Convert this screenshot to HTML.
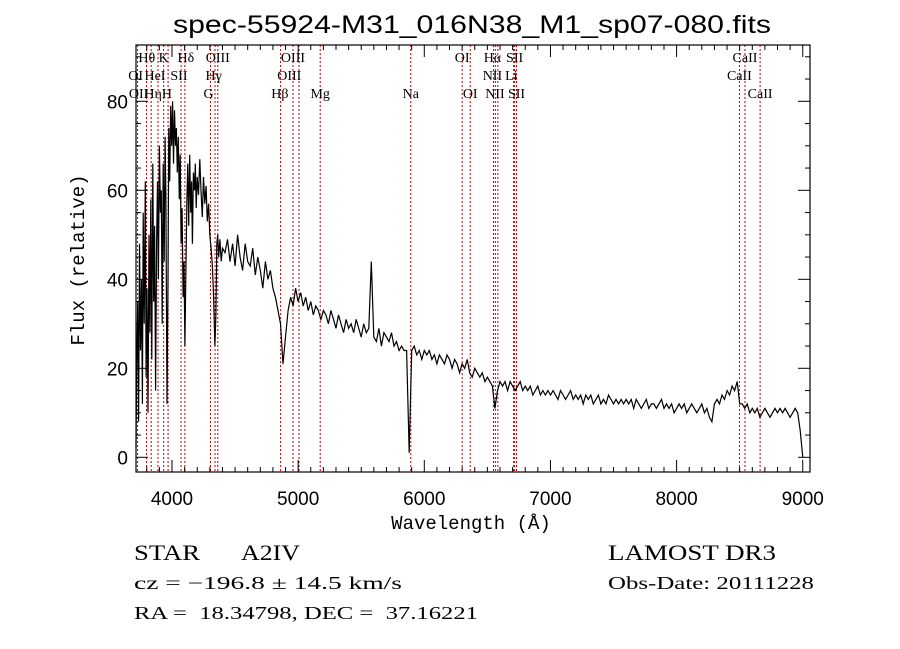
<!DOCTYPE html>
<html><head><meta charset="utf-8"><style>
html,body{margin:0;padding:0;background:#fff;}
svg{display:block;}
text{font-family:"Liberation Serif",serif;fill:#000;white-space:pre;}
</style></head><body>
<svg id="chart" width="900" height="649" viewBox="0 0 900 649" xmlns="http://www.w3.org/2000/svg">
<rect x="0" y="0" width="900" height="649" fill="#fff"/>
<text x="472" y="33" text-anchor="middle" font-size="25" textLength="598" lengthAdjust="spacingAndGlyphs" style="font-family:'Liberation Sans',sans-serif">spec-55924-M31_016N38_M1_sp07-080.fits</text>
<g id="lines"></g>
<g id="lineLabels"></g>
<path id="spec" fill="none" stroke="#000" stroke-width="1.2"/>
<g id="axes"></g>
<text x="471" y="529" text-anchor="middle" font-size="19" style="font-family:'Liberation Mono',monospace">Wavelength (Å)</text>
<text transform="translate(84,260) rotate(-90)" text-anchor="middle" font-size="19" style="font-family:'Liberation Mono',monospace">Flux (relative)</text>
<text x="134" y="560" font-size="22" textLength="66" lengthAdjust="spacingAndGlyphs">STAR</text>
<text x="241" y="560" font-size="22" textLength="59" lengthAdjust="spacingAndGlyphs">A2IV</text>
<text x="608" y="560" font-size="22" textLength="168" lengthAdjust="spacingAndGlyphs">LAMOST DR3</text>
<text x="134" y="589" font-size="18" textLength="268" lengthAdjust="spacingAndGlyphs">cz = −196.8 ± 14.5 km/s</text>
<text x="608" y="589" font-size="18" textLength="206" lengthAdjust="spacingAndGlyphs">Obs-Date: 20111228</text>
<text x="134" y="619" font-size="18" textLength="344" lengthAdjust="spacingAndGlyphs">RA =  18.34798, DEC =  37.16221</text>
</svg>
<script>
const wave = [
3715,3720,3728,3735,3742,3750,3758,3765,3772,3780,
3788,3795,3802,3810,3818,3825,3832,3840,3848,3855,
3862,3870,3878,3885,3892,3900,3908,3915,3922,3930,
3938,3945,3952,3960,3968,3975,3982,3990,3998,4005,
4012,4020,4028,4035,4042,4050,4058,4065,4072,4080,
4088,4095,4102,4110,4118,4125,4132,4140,4148,4155,
4162,4170,4178,4185,4192,4200,4210,4220,4230,4240,
4250,4260,4270,4280,4290,4300,4310,4320,4330,4340,
4348,4355,4362,4370,4380,4390,4400,
4420,4440,4460,4480,4500,4520,4540,4560,4580,4600,
4620,4640,4660,4680,4700,4720,4740,4760,4780,4800,
4820,4840,4860,4880,4900,4920,4940,4960,4980,5000,
5020,5040,5060,5080,5100,5120,5140,5160,5180,5200,
5220,5240,5260,5280,5300,5320,5340,5360,5380,5400,
5420,5440,5460,5480,5500,5520,5540,5560,5580,5600,
5620,5640,5660,5680,5700,5720,5740,5760,5780,5800,
5820,5840,5860,5880,5900,5920,5940,5960,5980,6000,
6020,6040,6060,6080,6100,6120,6140,6160,6180,6200,
6220,6240,6260,6280,6300,6320,6340,6360,6380,6400,
6420,6440,6460,6480,6500,6520,6540,6560,6580,6600,
6620,6640,6660,6680,6700,6720,6740,6760,6780,6800,
6820,6840,6860,6880,6900,6920,6940,6960,6980,7000,
7020,7040,7060,7080,7100,7120,7140,7160,7180,7200,
7220,7240,7260,7280,7300,7320,7340,7360,7380,7400,
7420,7440,7460,7480,7500,7520,7540,7560,7580,7600,
7620,7640,7660,7680,7700,7720,7740,7760,7780,7800,
7820,7840,7860,7880,7900,7920,7940,7960,7980,8000,
8020,8040,8060,8080,8100,8120,8140,8160,8180,8200,
8220,8240,8260,8280,8300,8320,8340,8360,8380,8400,
8420,8440,8460,8480,8500,8520,8540,8560,8580,8600,
8620,8640,8660,8680,8700,8720,8740,8760,8780,8800,
8820,8840,8860,8880,8900,8920,8940,8960,8980,9000];
const flux = [
2,20,35,8,48,24,40,12,55,30,
62,18,38,10,50,28,58,22,66,35,
52,15,48,62,40,70,55,60,30,66,
44,72,58,12,40,74,62,79,70,80,
66,78,70,74,64,72,58,68,48,56,
36,44,25,42,58,66,52,68,55,62,
48,64,60,66,56,63,59,67,60,54,
63,57,61,53,57,50,47,43,36,25,
32,48,50,45,49,44,47,
46,49,44,48,43,50,45,42,48,44,
43,47,41,45,42,38,44,40,42,38,
36,33,30,21,27,33,36,34,38,35,
37,34,36,33,35,32,34,33,31,33,
32,30,33,31,29,32,30,28,31,29,
30,28,31,29,27,30,28,29,44,27,
26,29,25,28,27,26,28,25,26,24,
25,24,24,1,24,25,23,24,22,24,
23,24,22,23,21,23,22,21,23,22,
20,22,21,19,21,20,22,19,18,20,
19,18,19,17,18,17,16,11,15,17,
16,17,15,17,16,15,16,17,15,16,
15,16,14,15,16,14,15,14,15,14,
15,14,13,15,14,13,14,15,13,14,
13,14,12,14,13,14,12,13,14,12,
13,12,14,13,12,13,12,13,12,13,
12,13,11,13,12,11,12,13,11,12,
12,11,12,13,11,12,11,12,10,11,
12,11,12,10,11,12,11,10,11,12,
10,11,9,8,12,13,12,14,13,15,
14,16,15,17,12,12,11,12,10,11,
10,11,9,10,11,10,9,10,11,10,
11,10,11,10,9,10,11,10,6,0];
const fluxTicks = [0,20,40,60,80];
const waveTicks = [4000,5000,6000,7000,8000,9000];
const lineWaves = [3727,3798,3835,3889,3934,3969,4072,4102,4305,4341,4363,4861,4959,5007,5175,5893,6300,6364,6548,6563,6583,6708,6716,6731,8498,8542,8662];
const labelText = ["Hθ","K","Hδ","OIII","OIII","OI","Hα","SII","CaII","OI","HeI","SII","Hγ","OIII","NII","Li","CaII","OII","Hη","H","G","Hβ","Mg","Na","OI","NII","SII","CaII"];
const labelWave = [3800,3934,4110,4363,4959,6300,6540,6716,8542,3712,3865,4055,4330,4930,6540,6690,8498,3735,3850,3960,4290,4855,5175,5893,6364,6560,6731,8662];
const labelRow = [0,0,0,0,0,0,0,0,0,1,1,1,1,1,1,1,1,2,2,2,2,2,2,2,2,2,2,2];

const X0=136,X1=810,Y0=45,Y1=472;
function xs(w){return 172+(w-4000)*0.12615;}
function ys(f){return 457.3-f*4.45;}
const NS="http://www.w3.org/2000/svg";
function mk(tag,attrs,parent){const e=document.createElementNS(NS,tag);for(const k in attrs)e.setAttribute(k,attrs[k]);parent.appendChild(e);return e;}

const lg=document.getElementById('lines');
lineWaves.forEach(w=>{
  const l=mk('line',{x1:xs(w),x2:xs(w),y1:Y0,y2:Y1,stroke:'#c00000','stroke-width':1,'stroke-dasharray':'2,2'},lg);
  
  
});
const tg=document.getElementById('lineLabels');
labelText.forEach((t,i)=>{
  const e=mk('text',{x:xs(labelWave[i]),y:62+labelRow[i]*18,'text-anchor':'middle','font-size':14},tg);
  e.textContent=t;
  
  
});

let d='';
const n=Math.min(wave.length,flux.length);
for(let i=0;i<n;i++){const x=Math.max(X0,xs(wave[i])),y=Math.min(Y1,Math.max(Y0,ys(flux[i])));d+=(i?'L':'M')+x.toFixed(1)+','+y.toFixed(1);}
document.getElementById('spec').setAttribute('d',d);

const ag=document.getElementById('axes');
const box=mk('rect',{x:X0,y:Y0,width:X1-X0,height:Y1-Y0,fill:'none',stroke:'#000','stroke-width':1.2},ag);


for(let w=3800;w<=9000;w+=100){
  const x=xs(w);if(x<X0||x>X1)continue;
  const len=(w%1000===0)?12:5;
  mk('line',{x1:x,x2:x,y1:Y1,y2:Y1-len,stroke:'#000'},ag);
  mk('line',{x1:x,x2:x,y1:Y0,y2:Y0+len,stroke:'#000'},ag);
}
for(let f=0;f<=90;f+=5){
  const y=ys(f);const len=(f%20===0)?12:5;
  mk('line',{x1:X0,x2:X0+len,y1:y,y2:y,stroke:'#000'},ag);
  mk('line',{x1:X1,x2:X1-len,y1:y,y2:y,stroke:'#000'},ag);
}
waveTicks.forEach(w=>{
  const e=mk('text',{x:xs(w),y:505,'text-anchor':'middle','font-size':19,style:"font-family:'Liberation Sans',sans-serif"},ag);
  e.textContent=w;
  
  
});
fluxTicks.forEach(f=>{
  const e=mk('text',{x:128,y:ys(f)+7,'text-anchor':'end','font-size':19,style:"font-family:'Liberation Sans',sans-serif"},ag);
  e.textContent=f;
  
  
});
</script>
</body></html>
